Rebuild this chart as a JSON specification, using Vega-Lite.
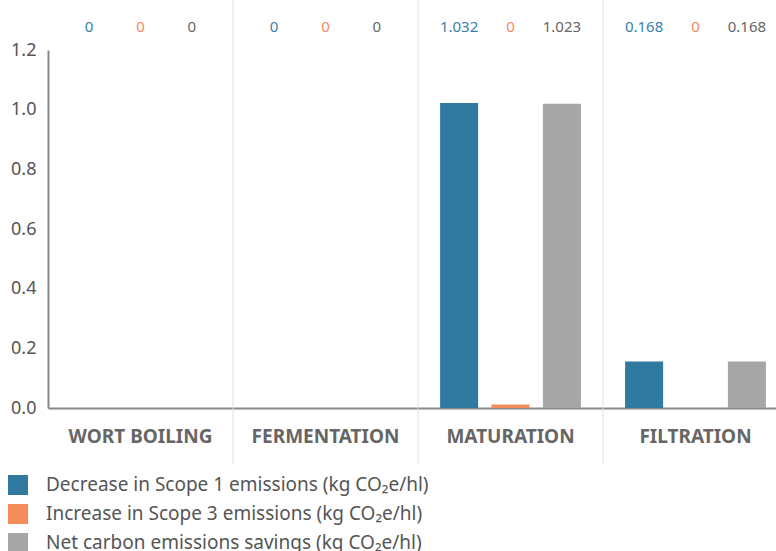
{
  "$schema": "https://vega.github.io/schema/vega-lite/v6.json",
  "width": 740,
  "height": 358,
  "autosize": {"type": "none"},
  "padding": {"left": 48, "top": 50, "right": 0, "bottom": 143},
  "config": {"view": {"stroke": null}, "font": "Noto Sans"},
  "data": {
    "values": [
      {"category": "WORT BOILING", "series": "Decrease in Scope 1 emissions (kg CO₂e/hl)", "value": 0, "label": "0"},
      {"category": "WORT BOILING", "series": "Increase in Scope 3 emissions (kg CO₂e/hl)", "value": 0, "label": "0"},
      {"category": "WORT BOILING", "series": "Net carbon emissions savings (kg CO₂e/hl)", "value": 0, "label": "0"},
      {"category": "FERMENTATION", "series": "Decrease in Scope 1 emissions (kg CO₂e/hl)", "value": 0, "label": "0"},
      {"category": "FERMENTATION", "series": "Increase in Scope 3 emissions (kg CO₂e/hl)", "value": 0, "label": "0"},
      {"category": "FERMENTATION", "series": "Net carbon emissions savings (kg CO₂e/hl)", "value": 0, "label": "0"},
      {"category": "MATURATION", "series": "Decrease in Scope 1 emissions (kg CO₂e/hl)", "value": 1.022, "label": "1.032"},
      {"category": "MATURATION", "series": "Increase in Scope 3 emissions (kg CO₂e/hl)", "value": 0.012, "label": "0"},
      {"category": "MATURATION", "series": "Net carbon emissions savings (kg CO₂e/hl)", "value": 1.02, "label": "1.023"},
      {"category": "FILTRATION", "series": "Decrease in Scope 1 emissions (kg CO₂e/hl)", "value": 0.156, "label": "0.168"},
      {"category": "FILTRATION", "series": "Increase in Scope 3 emissions (kg CO₂e/hl)", "value": 0, "label": "0"},
      {"category": "FILTRATION", "series": "Net carbon emissions savings (kg CO₂e/hl)", "value": 0.156, "label": "0.168"}
    ]
  },
  "layer": [
    {
      "transform": [{"filter": "datum.series === 'Decrease in Scope 1 emissions (kg CO₂e/hl)' && datum.category !== 'WORT BOILING'"}],
      "mark": {"type": "rule", "color": "#e0e0e0", "strokeWidth": 1},
      "encoding": {
        "x": {"field": "category", "type": "nominal", "bandPosition": 0, "sort": ["WORT BOILING", "FERMENTATION", "MATURATION", "FILTRATION"]},
        "y": {"datum": -0.19},
        "y2": {"datum": 1.41}
      }
    },
    {
      "mark": {"type": "bar"},
      "encoding": {
        "x": {
          "field": "category", "type": "nominal",
          "sort": ["WORT BOILING", "FERMENTATION", "MATURATION", "FILTRATION"],
          "scale": {"paddingInner": 0, "paddingOuter": 0},
          "axis": {"title": null, "labelAngle": 0, "labelAlign": "center", "bandPosition": 0.5, "labelFontSize": 19, "labelFontWeight": "bold", "labelColor": "#666", "ticks": false, "domainColor": "#888", "domainWidth": 2, "labelPadding": 28, "labelBaseline": "middle", "grid": false, "labelLimit": 0}
        },
        "xOffset": {
          "field": "series", "type": "nominal",
          "sort": ["Decrease in Scope 1 emissions (kg CO₂e/hl)", "Increase in Scope 3 emissions (kg CO₂e/hl)", "Net carbon emissions savings (kg CO₂e/hl)"],
          "scale": {"paddingInner": 0.26, "paddingOuter": 0.43}
        },
        "y": {
          "field": "value", "type": "quantitative",
          "scale": {"domain": [0, 1.2], "nice": false},
          "axis": {"title": null, "values": [0, 0.2, 0.4, 0.6, 0.8, 1.0, 1.2], "format": ".1f", "labelFontSize": 18, "labelColor": "#555", "ticks": false, "domainColor": "#888", "domainWidth": 2, "gridColor": "#e6e6e6", "labelPadding": 12}
        },
        "color": {
          "field": "series", "type": "nominal",
          "scale": {
            "domain": ["Decrease in Scope 1 emissions (kg CO₂e/hl)", "Increase in Scope 3 emissions (kg CO₂e/hl)", "Net carbon emissions savings (kg CO₂e/hl)"],
            "range": ["#2f7a9e", "#f58d5a", "#a6a6a6"]
          },
          "legend": {"orient": "none", "legendX": -40, "legendY": 425, "title": null, "symbolType": "square", "symbolSize": 400, "symbolStrokeWidth": 0, "symbolOpacity": 1, "labelFontSize": 19, "labelColor": "#555", "labelOffset": 18, "rowPadding": 9, "labelLimit": 0}
        }
      }
    },
    {
      "mark": {"type": "text", "fontSize": 15, "dy": -23, "baseline": "middle"},
      "encoding": {
        "x": {"field": "category", "type": "nominal", "sort": ["WORT BOILING", "FERMENTATION", "MATURATION", "FILTRATION"]},
        "xOffset": {
          "field": "series", "type": "nominal",
          "sort": ["Decrease in Scope 1 emissions (kg CO₂e/hl)", "Increase in Scope 3 emissions (kg CO₂e/hl)", "Net carbon emissions savings (kg CO₂e/hl)"]
        },
        "y": {"datum": 1.2},
        "text": {"field": "label"},
        "color": {
          "field": "series", "type": "nominal",
          "scale": {
            "domain": ["Decrease in Scope 1 emissions (kg CO₂e/hl)", "Increase in Scope 3 emissions (kg CO₂e/hl)", "Net carbon emissions savings (kg CO₂e/hl)"],
            "range": ["#3a80a8", "#f4895f", "#666666"]
          },
          "legend": null
        }
      }
    }
  ],
  "resolve": {"scale": {"color": "independent"}}
}
